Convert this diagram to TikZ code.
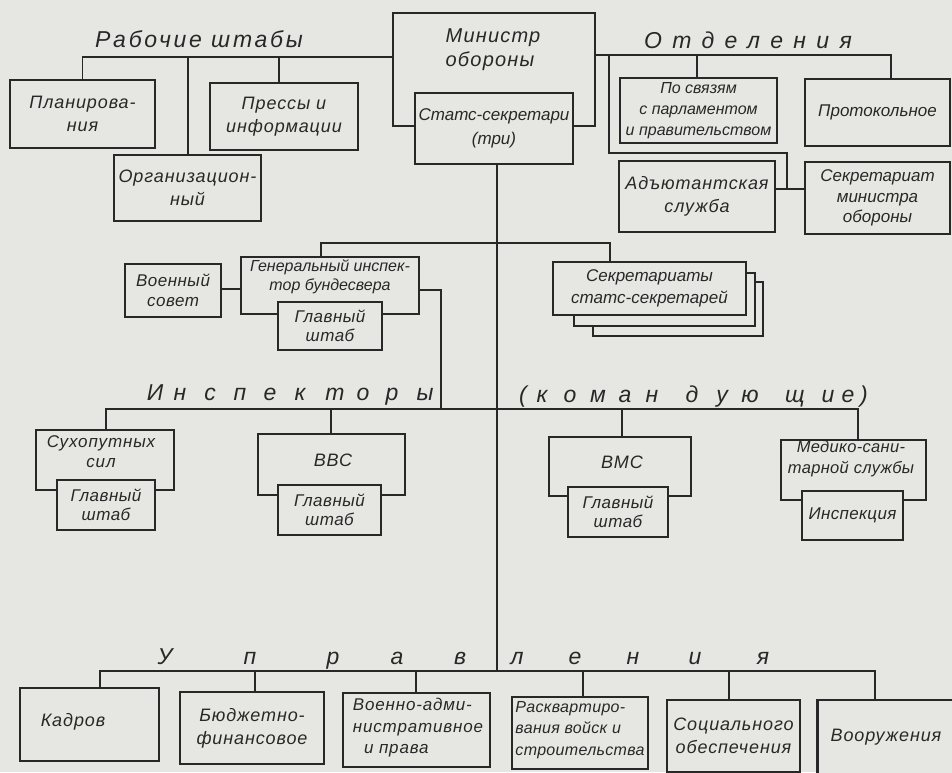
\documentclass[tikz,border=0pt]{standalone}
\usepackage{fontspec}
\usetikzlibrary{backgrounds}
\setmainfont{Liberation Sans}
\definecolor{bg}{RGB}{230,230,226}
\definecolor{ink}{RGB}{40,40,40}
\newcommand\bxfont[3]{\fontsize{#1}{#2}\selectfont\itshape\addfontfeature{LetterSpace=#3}}
\begin{document}
\begin{tikzpicture}[x=1pt,y=-1pt,
  bx/.style={draw=ink, line width=2.8pt, fill=bg, inner sep=0pt, outer sep=0pt},
  ln/.style={draw=ink, line width=1.9pt},
  tx/.style={font=\bxfont{18}{23}{5}, align=center, inner sep=0pt, text=ink},
  ttl/.style={font=\fontsize{23}{26}\selectfont\itshape, inner sep=0pt, text=ink, anchor=base}]
\useasboundingbox (0,0) rectangle (952,772);

% ---------- boxes ----------
\node[bx, minimum width=202pt, minimum height=113pt] (min) at (494,69.5) {};
\node[tx, align=left, font=\bxfont{20}{24}{6}] (minT) at (493,50) {Министр\\обороны};
\node[bx, tx, font=\bxfont{17}{24}{0}, minimum width=158pt, minimum height=71pt] (staat) at (494,128.5) {Статс-секретари\\(три)};

\node[bx, tx, minimum width=145pt, minimum height=68pt] (plan) at (82.5,114) {Планирова-\\ния};
\node[bx, tx, minimum width=147pt, minimum height=66pt] (org) at (187.5,188) {Организацион-\\ный};
\node[bx, tx, minimum width=148pt, minimum height=67pt] (press) at (284,116.5) {Прессы и\\информации};

\node[bx, tx, font=\bxfont{16}{21}{0}, minimum width=157pt, minimum height=65pt] (svyaz) at (698.5,110.5) {По связям\\с парламентом\\и правительством};
\node[bx, tx, font=\bxfont{17}{22}{0}, minimum width=145pt, minimum height=67pt] (proto) at (877.5,112.5) {Протокольное};
\node[bx, tx, minimum width=156pt, minimum height=71pt] (adyut) at (697,196.5) {Адъютантская\\служба};
\node[bx, tx, font=\bxfont{17}{20.5}{0}, minimum width=145pt, minimum height=72pt] (sekmin) at (877.5,198) {Секретариат\\министра\\обороны};

\node[bx, tx, font=\bxfont{17}{20}{3}, minimum width=96pt, minimum height=53pt] (sovet) at (173,290.5) {Военный\\совет};
\node[bx, minimum width=178pt, minimum height=57pt] (gen) at (330,285.5) {};
\node[tx, font=\bxfont{16}{19}{0}] (genT) at (330,277) {Генеральный инспек-\\тор бундесвера};
\node[bx, tx, font=\bxfont{17}{19}{3}, minimum width=104pt, minimum height=48pt] (gsh1) at (330,326) {Главный\\штаб};

\node[bx, minimum width=170pt, minimum height=54pt] (sec3) at (678,309) {};
\node[bx, minimum width=181pt, minimum height=53pt] (sec2) at (664.5,299.5) {};
\node[bx, tx, font=\bxfont{17}{22}{0}, minimum width=193pt, minimum height=53pt] (sec) at (649.5,288.5) {Секретариаты\\статс-секретарей};

\node[bx, minimum width=138pt, minimum height=60pt] (sukh) at (105,460) {};
\node[tx, font=\bxfont{17}{20}{5}] (sukhT) at (101,452) {Сухопутных\\сил};
\node[bx, tx, font=\bxfont{17}{19}{3}, minimum width=98pt, minimum height=50pt] (gsh2) at (106,505) {Главный\\штаб};

\node[bx, minimum width=147pt, minimum height=61pt] (vvs) at (331.5,464.5) {};
\node[tx] (vvsT) at (333,460) {ВВС};
\node[bx, tx, font=\bxfont{17}{19}{3}, minimum width=103pt, minimum height=50pt] (gsh3) at (329.5,510) {Главный\\штаб};

\node[bx, minimum width=142pt, minimum height=59pt] (vms) at (620,466.5) {};
\node[tx] (vmsT) at (622,462) {ВМС};
\node[bx, tx, font=\bxfont{17}{19}{3}, minimum width=100pt, minimum height=50pt] (gsh4) at (618,512) {Главный\\штаб};

\node[bx, minimum width=145pt, minimum height=60pt] (med) at (853.5,470) {};
\node[tx, font=\bxfont{16.5}{21}{2}] (medT) at (851,459) {Медико-сани-\\тарной службы};
\node[bx, tx, font=\bxfont{17}{21}{2}, minimum width=101pt, minimum height=49pt] (insp) at (852.5,515.5) {Инспекция};

\node[bx, minimum width=139pt, minimum height=73pt] (kadr) at (89.5,724.5) {};
\node[tx] (kadrT) at (73,722) {Кадров};
\node[bx, tx, minimum width=144pt, minimum height=72pt] (byud) at (252,728) {Бюджетно-\\финансовое};
\node[bx, minimum width=147pt, minimum height=74pt] (vadm) at (416.5,730) {};
\node[tx, align=left, font=\bxfont{17}{21.5}{5}] (vadmT) at (418,728) {Военно-адми-\\нистративное\\\ \ и права};
\node[bx, minimum width=136pt, minimum height=72pt] (rask) at (580,733) {};
\node[tx, align=left, font=\bxfont{16}{21.5}{2}] (raskT) at (580,730) {Расквартиро-\\вания войск и\\строительства};
\node[bx, tx, minimum width=133pt, minimum height=72pt] (sots) at (733.5,736) {Социального\\обеспечения};
\node[bx, tx, minimum width=137pt, minimum height=74pt] (voor) at (886,737) {Вооружения};

% ---------- background and connectors ----------
\begin{pgfonlayer}{background}
\fill[bg] (0,0) rectangle (952,772);
% working staffs
\draw[ln] (plan.north) |- (min.west |- 0,57);
\draw[ln] (188,57) -- (188,0 |- org.north);
\draw[ln] (279,57) -- (279,0 |- press.north);
% departments
\draw[ln] (min.east |- 0,55) -| (891,0 |- proto.north);
\draw[ln] (697,55) -- (697,0 |- svyaz.north);
\draw[ln] (609,55) |- (787,153) -- (787,189);
\draw[ln] (adyut.east |- 0,189) -- (sekmin.west |- 0,189);
% main trunk
\draw[ln] (497,0 |- staat.south) -- (497,671);
\draw[ln] (321,0 |- gen.north) |- (610,243) -- (610,0 |- sec.north);
\draw[ln] (sovet.east |- 0,289) -- (gen.west |- 0,289);
\draw[ln] (gen.east |- 0,290) -| (441,409);
% inspectors
\draw[ln] (106,0 |- sukh.north) |- (858,409) -- (858,0 |- med.north);
\draw[ln] (331,409) -- (331,0 |- vvs.north);
\draw[ln] (622,409) -- (622,0 |- vms.north);
% directorates
\draw[ln] (100,0 |- kadr.north) |- (875,671) -- (875,0 |- voor.north);
\draw[ln] (255,671) -- (255,0 |- byud.north);
\draw[ln] (416,671) -- (416,0 |- vadm.north);
\draw[ln] (583,671) -- (583,0 |- rask.north);
\draw[ln] (729,671) -- (729,0 |- sots.north);
\end{pgfonlayer}

% ---------- titles ----------
\node[ttl, font=\fontsize{23}{26}\selectfont\itshape\addfontfeature{LetterSpace=12}] (rabT) at (199,47) {Рабочие штабы};
\node[ttl, font=\fontsize{23}{26}\selectfont\itshape\addfontfeature{LetterSpace=45}] (otdT) at (748,48) {Отделения};

\foreach \c/\x [count=\i] in {И/155,н/180,с/210,п/240,е/270,к/300,т/335,о/363,р/392,ы/425}
  \node[ttl] (ins\i) at (\x,400) {\c};
\foreach \c/\x [count=\i] in {{(}/523,к/542,о/570,м/598,а/625,н/652,д/692,у/722,ю/750,щ/795,и/828,е/848,{)}/864}
  \node[ttl] (kom\i) at (\x,402) {\c};
\foreach \c/\x [count=\i] in {У/165,п/250,р/333,а/397,в/460,л/517,е/575,н/633,и/695,я/763}
  \node[ttl] (upr\i) at (\x,664) {\c};

\end{tikzpicture}
\end{document}
